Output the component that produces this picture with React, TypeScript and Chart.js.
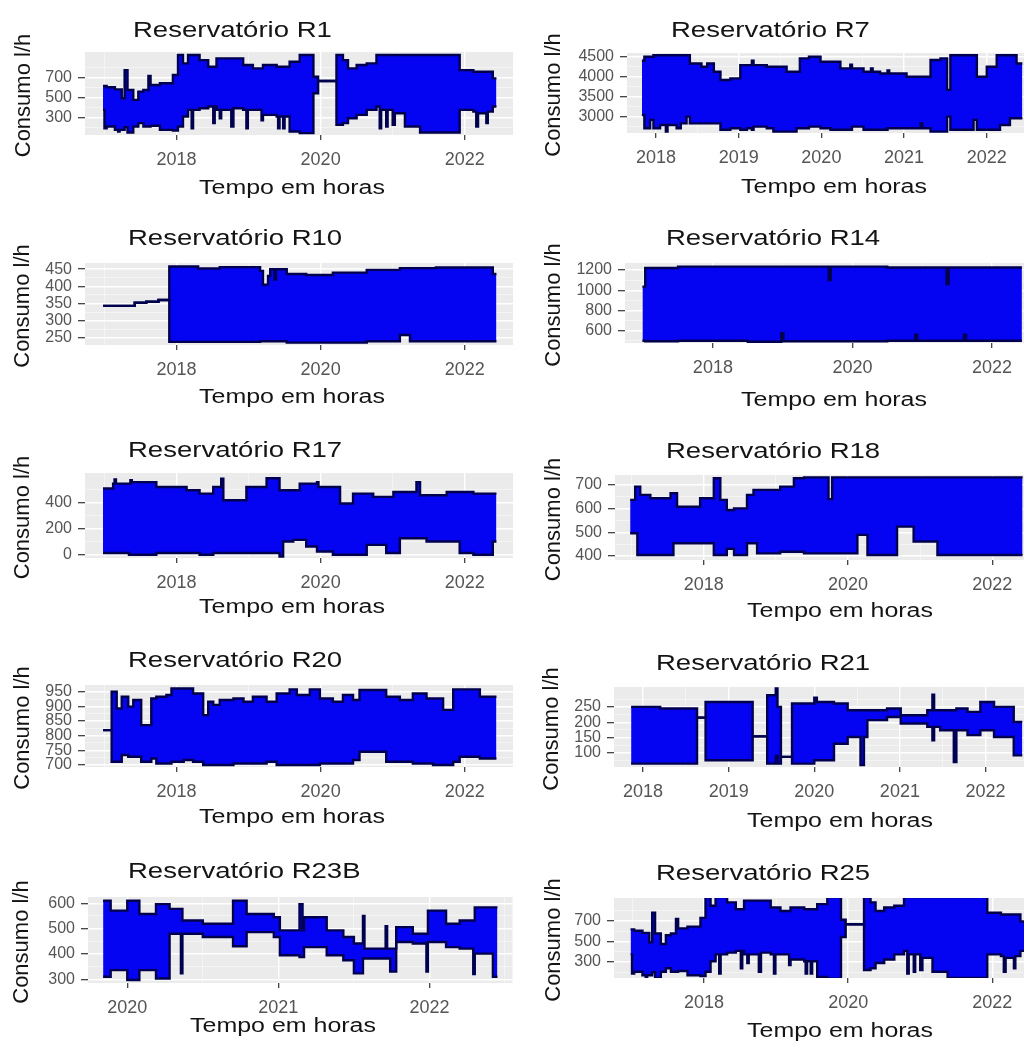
import React, { useEffect, useRef } from "react";
import { Chart, registerables } from "chart.js";

Chart.register(...registerables);

const FONT = '"Liberation Sans", Arial, Helvetica, sans-serif';
const BLUE = "#0404f2";
const EDGE = "#00004e";
const PANEL_BG = "#ebebeb";
const STRETCH = 1.28;
const Y_AXIS_W = 50;
const X_AXIS_H = 40;

const yTitle = "Consumo l/h";
const xTitle = "Tempo em horas";

// ---------------- R1 ----------------
const r1Time = [2016.98, 2017.00, 2017.03, 2017.145, 2017.19, 2017.21, 2017.24, 2017.28, 2017.32, 2017.40,
  2017.47, 2017.54, 2017.61, 2017.64, 2017.77, 2017.95, 2018.02, 2018.09, 2018.16, 2018.21,
  2018.23, 2018.32, 2018.44, 2018.51, 2018.53, 2018.555, 2018.60, 2018.62, 2018.76, 2018.79,
  2018.925, 2018.97, 2018.99, 2019.06, 2019.18, 2019.20, 2019.39, 2019.41, 2019.43, 2019.48,
  2019.50, 2019.57, 2019.71, 2019.90, 2019.965, 2020.22, 2020.31, 2020.38, 2020.50, 2020.64,
  2020.775, 2020.82, 2020.84, 2020.91, 2020.93, 2021.00, 2021.03, 2021.17, 2021.38, 2021.93,
  2022.12, 2022.16, 2022.185, 2022.30, 2022.32, 2022.39, 2022.44];
const r1High = [616, 616, 603, 582, 582, 582, 492, 777, 576, 475,
  559, 576, 717, 626, 643, 727, 929, 845, 929, 929,
  929, 878, 811, 811, 811, 895, 895, 895, 895, 895,
  828, 828, 828, 794, 794, 828, 811, 811, 811, 811,
  811, 861, 929, 710, 666, 929, 878, 794, 828, 845,
  929, 929, 929, 929, 929, 929, 929, 929, 929, 777,
  760, 760, 760, 760, 760, 693, 693];
const r1Low = [374, 189, 206, 172, 155, 172, 172, 200, 145, 206,
  240, 206, 206, 213, 172, 165, 206, 307, 374, 189,
  374, 391, 408, 240, 408, 374, 290, 374, 206, 391,
  374, 189, 374, 374, 270, 324, 307, 189, 307, 189,
  307, 155, 139, 542, 666, 223, 240, 290, 324, 374,
  408, 189, 374, 206, 374, 223, 340, 206, 145, 374,
  357, 206, 340, 240, 357, 408, 408];
const r1XTicks = [2018, 2020, 2022];
const r1XMinor = [2017, 2019, 2021];
const r1YTicks = [300, 500, 700];
const r1YMinor = [200, 400, 600, 800];

// ---------------- R7 ----------------
const r7Time = [2017.83, 2017.86, 2017.93, 2017.97, 2018.05, 2018.12, 2018.14, 2018.25, 2018.30, 2018.37,
  2018.41, 2018.55, 2018.62, 2018.70, 2018.78, 2018.90, 2019.02, 2019.10, 2019.16, 2019.18,
  2019.34, 2019.42, 2019.58, 2019.70, 2019.74, 2019.85, 2019.99, 2020.11, 2020.23, 2020.35,
  2020.37, 2020.51, 2020.60, 2020.62, 2020.71, 2020.80, 2020.82, 2020.91, 2021.03, 2021.20,
  2021.22, 2021.32, 2021.44, 2021.52, 2021.56, 2021.70, 2021.84, 2021.88, 2022.00, 2022.12,
  2022.16, 2022.28, 2022.36, 2022.43];
const r7High = [4400, 4500, 4500, 4540, 4540, 4540, 4540, 4540, 4540, 4540,
  4330, 4250, 4330, 4125, 3920, 3960, 4290, 4290, 4400, 4290,
  4250, 4250, 4125, 4125, 4460, 4500, 4375, 4375, 4210, 4300,
  4210, 4125, 4210, 4125, 4080, 4160, 4080, 4080, 4000, 4000,
  4000, 4420, 4460, 3670, 4540, 4540, 4540, 4000, 4250, 4540,
  4540, 4540, 4330, 4330];
const r7Low = [3040, 2710, 2920, 2710, 2790, 2625, 2790, 2710, 2830, 3000,
  2830, 2830, 2830, 2830, 2670, 2710, 2670, 2710, 2670, 2750,
  2710, 2625, 2625, 2710, 2710, 2750, 2710, 2670, 2670, 2670,
  2750, 2670, 2670, 2670, 2670, 2710, 2710, 2710, 2710, 2830,
  2710, 2625, 2625, 3000, 2670, 2670, 2920, 2670, 2670, 2670,
  2790, 2960, 2960, 2960];
const r7XTicks = [2018, 2019, 2020, 2021, 2022];
const r7XMinor = [2018.5, 2019.5, 2020.5, 2021.5];
const r7YTicks = [3000, 3500, 4000, 4500];
const r7YMinor = [2750, 3250, 3750, 4250];

// ---------------- R10 ----------------
const r10Time = [2016.98, 2017.42, 2017.58, 2017.75, 2017.90, 2018.30, 2018.60, 2019.16, 2019.20, 2019.27,
  2019.30, 2019.36, 2019.38, 2019.53, 2019.80, 2020.17, 2020.64, 2021.10, 2021.24, 2021.60,
  2022.21, 2022.39, 2022.44];
const r10High = [343, 352, 355, 360, 458, 452, 456, 445, 405, 430,
  450, 420, 450, 436, 433, 440, 448, 453, 453, 455,
  455, 436, 436];
const r10Low = [343, 352, 355, 360, 238, 238, 238, 240, 240, 240,
  240, 240, 240, 236, 236, 236, 240, 258, 240, 240,
  240, 240, 240];
const r10XTicks = [2018, 2020, 2022];
const r10XMinor = [2017, 2019, 2021];
const r10YTicks = [250, 300, 350, 400, 450];
const r10YMinor = [275, 325, 375, 425];

// ---------------- R14 ----------------
const r14Time = [2016.99, 2017.03, 2017.50, 2018.50, 2018.98, 2019.01, 2019.66, 2019.69, 2020.50, 2020.90, 2020.93, 2021.35, 2021.38, 2021.60, 2021.63, 2022.43];
const r14High = [1035, 1220, 1233, 1233, 1233, 1233, 1100, 1233, 1225, 1225, 1225, 1060, 1225, 1225, 1225, 1225];
const r14Low = [500, 495, 500, 490, 574, 495, 495, 495, 500, 560, 500, 500, 500, 560, 500, 500];
const r14XTicks = [2018, 2020, 2022];
const r14XMinor = [2017, 2019, 2021];
const r14YTicks = [600, 800, 1000, 1200];
const r14YMinor = [500, 700, 900, 1100];

// ---------------- R17 ----------------
const r17Time = [2016.98, 2017.12, 2017.14, 2017.16, 2017.34, 2017.36, 2017.38, 2017.49, 2017.72, 2018.14,
  2018.32, 2018.51, 2018.62, 2018.65, 2018.97, 2019.25, 2019.43, 2019.48, 2019.62, 2019.71,
  2019.80, 2019.95, 2019.97, 2020.17, 2020.27, 2020.45, 2020.64, 2020.73, 2020.91, 2021.01,
  2021.10, 2021.33, 2021.38, 2021.47, 2021.75, 2021.93, 2022.12, 2022.39, 2022.44];
const r17High = [510, 548, 580, 548, 548, 575, 560, 560, 522, 497,
  471, 522, 586, 420, 522, 590, 497, 497, 497, 548,
  548, 560, 522, 522, 395, 471, 471, 446, 446, 484,
  484, 560, 459, 459, 484, 484, 471, 471, 471];
const r17Low = [13, 13, 13, 13, 0, 0, 0, 0, 13, 13,
  0, 13, 13, 13, 13, 13, -13, 102, 115, 115,
  64, 25, 25, 0, 0, 0, 76, 76, 13, 13,
  127, 127, 127, 102, 102, 13, 0, 102, 102];
const r17XTicks = [2018, 2020, 2022];
const r17XMinor = [2017, 2019, 2021];
const r17YTicks = [0, 200, 400];
const r17YMinor = [100, 300, 500];

// ---------------- R18 ----------------
const r18Time = [2016.98, 2017.05, 2017.08, 2017.12, 2017.26, 2017.54, 2017.58, 2017.63, 2017.95, 2018.14, 2018.23, 2018.32, 2018.42, 2018.60, 2018.69, 2018.74, 2019.06, 2019.25, 2019.39, 2019.73, 2019.78, 2020.13, 2020.27, 2020.68, 2020.91, 2021.24, 2022.42];
const r18High = [637, 693, 693, 658, 644, 665, 665, 608, 644, 728, 637, 594, 601, 658, 679, 679, 693, 728, 732, 640, 732, 732, 732, 732, 732, 732, 732];
const r18Low = [496, 496, 404, 404, 404, 404, 454, 454, 454, 404, 404, 430, 404, 454, 454, 411, 418, 418, 411, 411, 411, 489, 404, 524, 461, 404, 404];
const r18XTicks = [2018, 2020, 2022];
const r18XMinor = [2017, 2019, 2021];
const r18YTicks = [400, 500, 600, 700];
const r18YMinor = [450, 550, 650];

// ---------------- R20 ----------------
const r20Time = [2016.98, 2017.10, 2017.17, 2017.24, 2017.33, 2017.40, 2017.51, 2017.65, 2017.72, 2017.86,
  2017.93, 2018.10, 2018.23, 2018.37, 2018.44, 2018.51, 2018.60, 2018.79, 2018.93, 2019.06,
  2019.25, 2019.39, 2019.57, 2019.67, 2019.85, 2019.99, 2020.17, 2020.31, 2020.45, 2020.54,
  2020.91, 2021.10, 2021.28, 2021.47, 2021.56, 2021.70, 2021.84, 2021.93, 2022.21, 2022.44];
const r20High = [819, 950, 893, 933, 899, 922, 836, 927, 933, 939,
  961, 961, 944, 870, 916, 905, 922, 927, 916, 933,
  916, 944, 958, 939, 958, 927, 916, 939, 922, 956,
  933, 922, 944, 927, 927, 888, 958, 958, 933, 933];
const r20Low = [819, 711, 711, 734, 728, 728, 711, 722, 705, 705,
  711, 717, 711, 700, 700, 700, 700, 705, 705, 705,
  711, 700, 700, 700, 700, 705, 705, 705, 717, 745,
  711, 711, 705, 705, 700, 700, 711, 728, 722, 722];
const r20XTicks = [2018, 2020, 2022];
const r20XMinor = [2017, 2019, 2021];
const r20YTicks = [700, 750, 800, 850, 900, 950];
const r20YMinor = [725, 775, 825, 875, 925];

// ---------------- R21 ----------------
const r21Time = [2017.86, 2018.20, 2018.63, 2018.73, 2019.28, 2019.45, 2019.55, 2019.57, 2019.61, 2019.74, 2020.00, 2020.03, 2020.23, 2020.39, 2020.54, 2020.58, 2020.62, 2020.85, 2021.01, 2021.32, 2021.38, 2021.40, 2021.47, 2021.63, 2021.66, 2021.79, 2021.94, 2022.10, 2022.33, 2022.43];
const r21High = [250, 245, 215, 266, 154, 288, 310, 250, 87, 261, 280, 266, 261, 239, 239, 239, 239, 245, 223, 239, 290, 239, 239, 239, 245, 234, 266, 250, 201, 201];
const r21Low = [65, 65, 215, 76, 154, 65, 90, 65, 87, 65, 76, 76, 130, 152, 60, 152, 207, 217, 196, 185, 141, 185, 174, 70, 174, 158, 174, 152, 92, 92];
const r21XTicks = [2018, 2019, 2020, 2021, 2022];
const r21XMinor = [2018.5, 2019.5, 2020.5, 2021.5];
const r21YTicks = [100, 150, 200, 250];
const r21YMinor = [75, 125, 175, 225, 275];

// ---------------- R23B ----------------
const r23bTime = [2019.84, 2019.89, 2020.00, 2020.08, 2020.19, 2020.28, 2020.355, 2020.365, 2020.50, 2020.70, 2020.79, 2020.97, 2021.01, 2021.14, 2021.16, 2021.17, 2021.32, 2021.43, 2021.50, 2021.56, 2021.57, 2021.71, 2021.72, 2021.74, 2021.78, 2021.89, 2021.98, 2021.99, 2022.11, 2022.20, 2022.29, 2022.30, 2022.42, 2022.45];
const r23bHigh = [610, 571, 610, 558, 597, 578, 578, 532, 519, 610, 558, 545, 493, 597, 493, 545, 493, 467, 441, 550, 421, 510, 421, 421, 506, 480, 480, 571, 519, 532, 532, 584, 584, 584];
const r23bLow = [310, 336, 297, 336, 303, 480, 323, 480, 467, 430, 486, 467, 395, 388, 388, 427, 395, 375, 323, 382, 382, 382, 382, 330, 447, 441, 330, 447, 427, 421, 320, 401, 310, 310];
const r23bXTicks = [2020, 2021, 2022];
const r23bXMinor = [2020.5, 2021.5, 2022.5];
const r23bYTicks = [300, 400, 500, 600];
const r23bYMinor = [350, 450, 550];

// ---------------- R25 (the picture shows the same series as R1) ----------------
const r25Time = r1Time;
const r25High = r1High;
const r25Low = r1Low;
const r25XTicks = [2018, 2020, 2022];
const r25XMinor = [2017, 2019, 2021];
const r25YTicks = [300, 500, 700];
const r25YMinor = [200, 400, 600, 800];

type PanelCfg = {
  title: string;
  time: number[];
  high: number[];
  low: number[];
  xTicks: number[];
  xMinor: number[];
  yTicks: number[];
  yMinor: number[];
  xMin: number;
  xMax: number;
  yMin: number;
  yMax: number;
  col: number;
  row: number;
  h: number;
  L: number;
  R: number;
  T: number;
  B: number;
  titleX: number;
  titleY: number;
  xTitleX: number;
  xTitleY: number;
  yTitleX: number;
};

const PANELS: PanelCfg[] = [
  { title: "Reservatório R1", time: r1Time, high: r1High, low: r1Low, xTicks: r1XTicks, xMinor: r1XMinor, yTicks: r1YTicks, yMinor: r1YMinor,
    xMin: 2016.73, xMax: 2022.67, yMin: 120, yMax: 960, col: 0, row: 0, h: 210, L: 85, R: 513, T: 52, B: 135,
    titleX: 133, titleY: 37, xTitleX: 292, xTitleY: 194, yTitleX: 24 },
  { title: "Reservatório R7", time: r7Time, high: r7High, low: r7Low, xTicks: r7XTicks, xMinor: r7XMinor, yTicks: r7YTicks, yMinor: r7YMinor,
    xMin: 2017.65, xMax: 2022.45, yMin: 2590, yMax: 4595, col: 1, row: 0, h: 210, L: 113, R: 510, T: 53, B: 133,
    titleX: 157, titleY: 37, xTitleX: 320, xTitleY: 193, yTitleX: 40 },
  { title: "Reservatório R10", time: r10Time, high: r10High, low: r10Low, xTicks: r10XTicks, xMinor: r10XMinor, yTicks: r10YTicks, yMinor: r10YMinor,
    xMin: 2016.73, xMax: 2022.67, yMin: 229, yMax: 468, col: 0, row: 1, h: 210, L: 85, R: 513, T: 53, B: 135,
    titleX: 128, titleY: 35, xTitleX: 292, xTitleY: 193, yTitleX: 23 },
  { title: "Reservatório R14", time: r14Time, high: r14High, low: r14Low, xTicks: r14XTicks, xMinor: r14XMinor, yTicks: r14YTicks, yMinor: r14YMinor,
    xMin: 2016.74, xMax: 2022.46, yMin: 478, yMax: 1269, col: 1, row: 1, h: 210, L: 111, R: 510, T: 53, B: 133,
    titleX: 152, titleY: 35, xTitleX: 320, xTitleY: 196, yTitleX: 40 },
  { title: "Reservatório R17", time: r17Time, high: r17High, low: r17Low, xTicks: r17XTicks, xMinor: r17XMinor, yTicks: r17YTicks, yMinor: r17YMinor,
    xMin: 2016.73, xMax: 2022.67, yMin: -25, yMax: 630, col: 0, row: 2, h: 210, L: 85, R: 513, T: 53, B: 138,
    titleX: 128, titleY: 37, xTitleX: 292, xTitleY: 193, yTitleX: 23 },
  { title: "Reservatório R18", time: r18Time, high: r18High, low: r18Low, xTicks: r18XTicks, xMinor: r18XMinor, yTicks: r18YTicks, yMinor: r18YMinor,
    xMin: 2016.77, xMax: 2022.44, yMin: 383, yMax: 742, col: 1, row: 2, h: 210, L: 101, R: 510, T: 55, B: 140,
    titleX: 152, titleY: 38, xTitleX: 326, xTitleY: 197, yTitleX: 40 },
  { title: "Reservatório R20", time: r20Time, high: r20High, low: r20Low, xTicks: r20XTicks, xMinor: r20XMinor, yTicks: r20YTicks, yMinor: r20YMinor,
    xMin: 2016.73, xMax: 2022.67, yMin: 693, yMax: 973, col: 0, row: 3, h: 210, L: 85, R: 513, T: 55, B: 137,
    titleX: 128, titleY: 37, xTitleX: 292, xTitleY: 193, yTitleX: 23 },
  { title: "Reservatório R21", time: r21Time, high: r21High, low: r21Low, xTicks: r21XTicks, xMinor: r21XMinor, yTicks: r21YTicks, yMinor: r21YMinor,
    xMin: 2017.66, xMax: 2022.45, yMin: 54, yMax: 315, col: 1, row: 3, h: 210, L: 100, R: 510, T: 57, B: 137,
    titleX: 142, titleY: 40, xTitleX: 326, xTitleY: 197, yTitleX: 38 },
  { title: "Reservatório R23B", time: r23bTime, high: r23bHigh, low: r23bLow, xTicks: r23bXTicks, xMinor: r23bXMinor, yTicks: r23bYTicks, yMinor: r23bYMinor,
    xMin: 2019.74, xMax: 2022.55, yMin: 285, yMax: 625, col: 0, row: 4, h: 205, L: 88, R: 513, T: 57, B: 143,
    titleX: 128, titleY: 38, xTitleX: 283, xTitleY: 192, yTitleX: 22 },
  { title: "Reservatório R25", time: r25Time, high: r25High, low: r25Low, xTicks: r25XTicks, xMinor: r25XMinor, yTicks: r25YTicks, yMinor: r25YMinor,
    xMin: 2016.75, xMax: 2022.44, yMin: 145, yMax: 920, col: 1, row: 4, h: 205, L: 100, R: 510, T: 58, B: 138,
    titleX: 142, titleY: 40, xTitleX: 326, xTitleY: 197, yTitleX: 40 },
];

type TickObj = { value: number; minor: boolean };

function tickList(major: number[], minor: number[], min: number, max: number): TickObj[] {
  return [
    ...major.map((v) => ({ value: v, minor: false })),
    ...minor.map((v) => ({ value: v, minor: true })),
  ]
    .filter((t) => t.value >= min && t.value <= max)
    .sort((a, b) => a.value - b.value);
}

function gridOpts(tickLength: number) {
  return {
    drawTicks: true,
    drawOnChartArea: true,
    tickLength,
    color: (c: any) => (c.tick && c.tick.minor ? "rgba(255,255,255,0.65)" : "#ffffff"),
    lineWidth: (c: any) => (c.tick && c.tick.minor ? 0.7 : 1.4),
    tickColor: (c: any) => (c.tick && c.tick.minor ? "rgba(0,0,0,0)" : "#333333"),
    tickWidth: 1.2,
  };
}

function labelCallback(value: any, index: number, ticks: any[]) {
  const t = ticks[index];
  return t && t.minor ? "" : String(value);
}

function buildConfig(p: PanelCfg): any {
  const bgPlugin = {
    id: "panelBg",
    beforeDraw(chart: any) {
      const { ctx, chartArea } = chart;
      ctx.save();
      ctx.fillStyle = "#ffffff";
      ctx.fillRect(0, 0, chart.width, chart.height);
      ctx.fillStyle = PANEL_BG;
      ctx.fillRect(chartArea.left, chartArea.top, chartArea.right - chartArea.left, chartArea.bottom - chartArea.top);
      ctx.restore();
    },
  };
  const textPlugin = {
    id: "panelText",
    afterDraw(chart: any) {
      const { ctx, chartArea } = chart;
      ctx.save();
      ctx.fillStyle = "#141414";
      ctx.textBaseline = "alphabetic";

      ctx.save();
      ctx.font = `21.5px ${FONT}`;
      ctx.textAlign = "left";
      ctx.translate(p.titleX, p.titleY);
      ctx.scale(STRETCH, 1);
      ctx.fillText(p.title, 0, 0);
      ctx.restore();

      ctx.save();
      ctx.font = `19.5px ${FONT}`;
      ctx.textAlign = "center";
      ctx.translate(p.xTitleX, p.xTitleY);
      ctx.scale(STRETCH, 1);
      ctx.fillText(xTitle, 0, 0);
      ctx.restore();

      ctx.save();
      ctx.font = `22px ${FONT}`;
      ctx.textAlign = "center";
      ctx.textBaseline = "middle";
      ctx.translate(p.yTitleX, (chartArea.top + chartArea.bottom) / 2 + 2);
      ctx.rotate(-Math.PI / 2);
      ctx.fillText(yTitle, 0, 0);
      ctx.restore();

      ctx.restore();
    },
  };

  const highPts = p.time.map((t, i) => ({ x: t, y: p.high[i] }));
  const lowPts = p.time.map((t, i) => ({ x: t, y: p.low[i] }));

  return {
    type: "line",
    data: {
      datasets: [
        {
          label: "max",
          data: highPts,
          stepped: true,
          borderColor: EDGE,
          borderWidth: 2.4,
          backgroundColor: BLUE,
          fill: "+1",
          pointRadius: 0,
          tension: 0,
          borderJoinStyle: "miter",
        },
        {
          label: "min",
          data: lowPts,
          stepped: true,
          borderColor: EDGE,
          borderWidth: 2.4,
          backgroundColor: BLUE,
          fill: false,
          pointRadius: 0,
          tension: 0,
          borderJoinStyle: "miter",
        },
      ],
    },
    options: {
      responsive: false,
      animation: false,
      events: [],
      layout: {
        padding: {
          left: p.L - Y_AXIS_W,
          right: 514 - p.R,
          top: p.T,
          bottom: p.h - p.B - X_AXIS_H,
        },
      },
      plugins: {
        legend: { display: false },
        tooltip: { enabled: false },
        title: { display: false },
        filler: { drawTime: "beforeDatasetsDraw" },
      },
      scales: {
        x: {
          type: "linear",
          min: p.xMin,
          max: p.xMax,
          afterFit: (s: any) => {
            s.height = X_AXIS_H;
          },
          afterBuildTicks: (s: any) => {
            s.ticks = tickList(p.xTicks, p.xMinor, p.xMin, p.xMax);
          },
          border: { display: false },
          grid: gridOpts(5),
          ticks: {
            autoSkip: false,
            maxRotation: 0,
            minRotation: 0,
            padding: 9,
            color: "#555555",
            font: { family: FONT, size: 18 },
            callback: labelCallback,
          },
        },
        y: {
          type: "linear",
          min: p.yMin,
          max: p.yMax,
          afterFit: (s: any) => {
            s.width = Y_AXIS_W;
          },
          afterBuildTicks: (s: any) => {
            s.ticks = tickList(p.yTicks, p.yMinor, p.yMin, p.yMax);
          },
          border: { display: false },
          grid: gridOpts(7),
          ticks: {
            autoSkip: false,
            padding: 6,
            color: "#555555",
            font: { family: FONT, size: 16 },
            callback: labelCallback,
          },
        },
      },
    },
    plugins: [bgPlugin, textPlugin],
  };
}

function Panel({ cfg }: { cfg: PanelCfg }) {
  const ref = useRef<HTMLCanvasElement | null>(null);
  useEffect(() => {
    const canvas = ref.current;
    if (!canvas) return;
    const chart = new Chart(canvas, buildConfig(cfg));
    return () => {
      chart.destroy();
    };
  }, [cfg]);
  return (
    <canvas
      ref={ref}
      width={514}
      height={cfg.h}
      style={{
        position: "absolute",
        left: cfg.col * 514,
        top: cfg.row * 210,
        width: 514,
        height: cfg.h,
        display: "block",
      }}
    />
  );
}

export default function App() {
  return (
    <div
      style={{
        position: "absolute",
        left: 0,
        top: 0,
        width: 1028,
        height: 1045,
        overflow: "hidden",
        background: "#ffffff",
      }}
    >
      {PANELS.map((p) => (
        <Panel key={p.title} cfg={p} />
      ))}
    </div>
  );
}
